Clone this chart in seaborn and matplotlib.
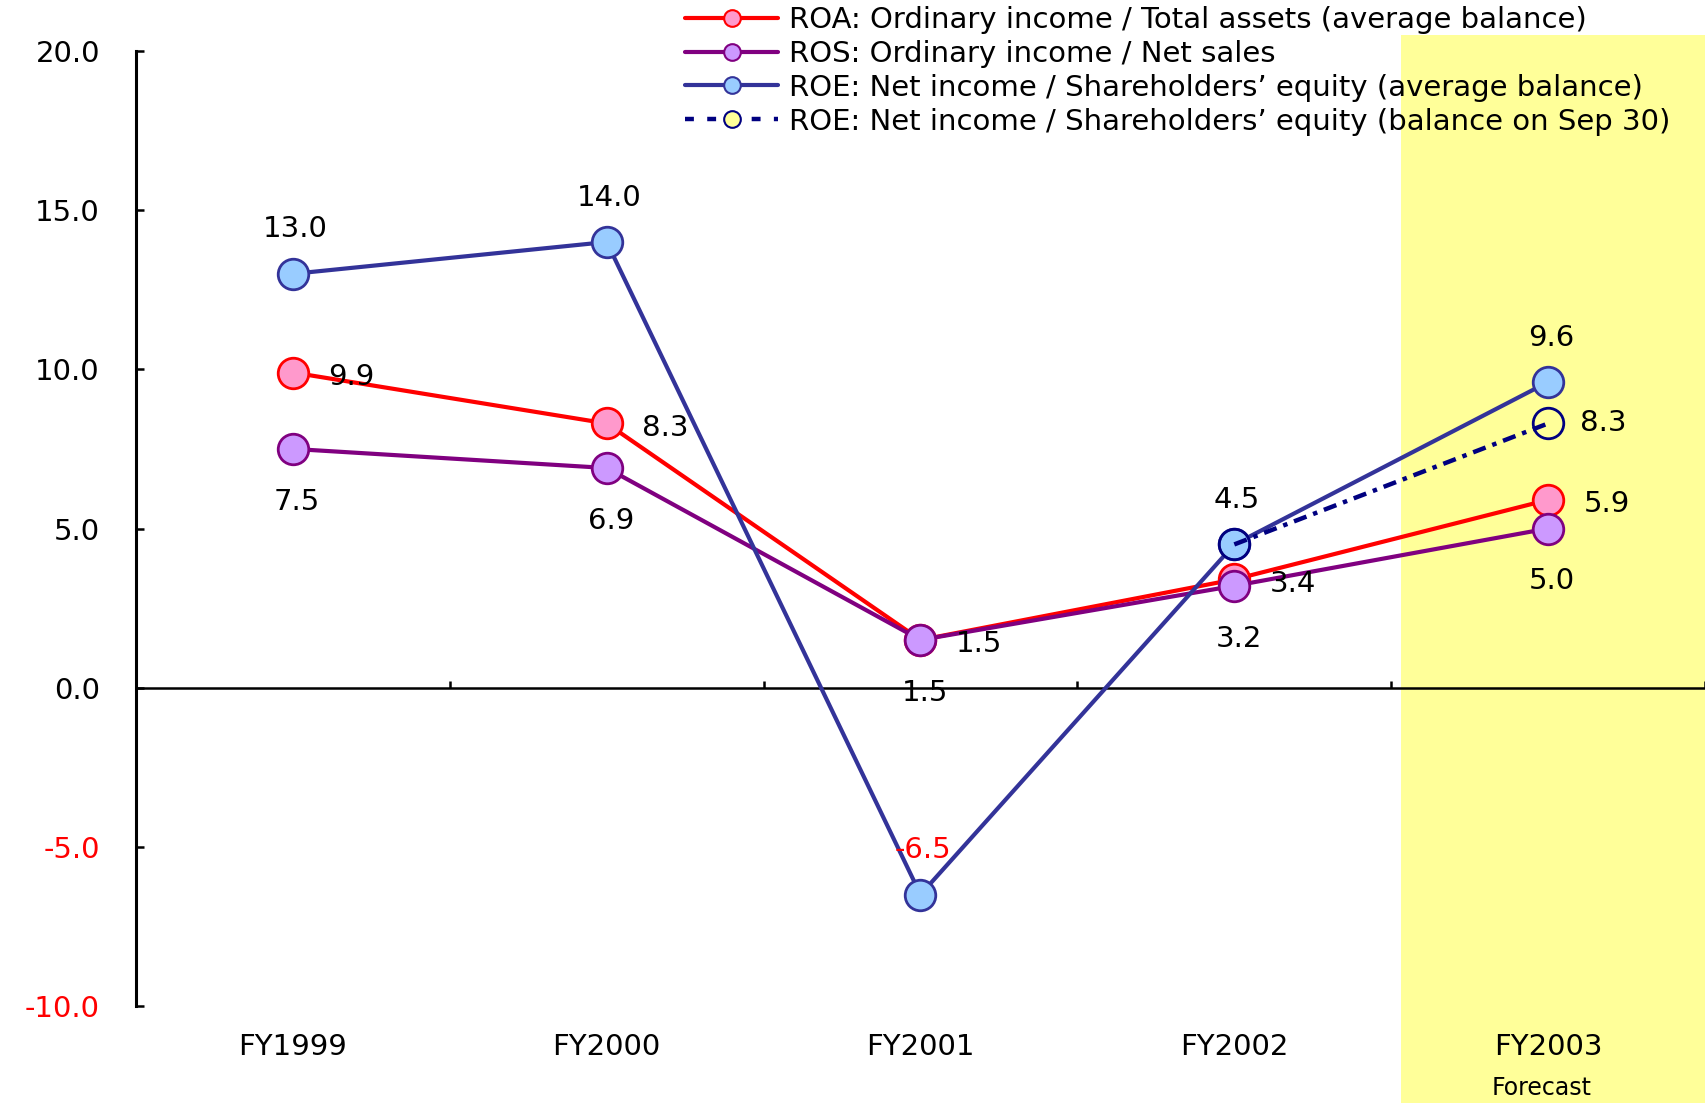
import numpy as np
import matplotlib
matplotlib.use("Agg")
import matplotlib.pyplot as plt
import matplotlib.transforms as mtransforms
from matplotlib.lines import Line2D
from matplotlib.patches import Rectangle
import seaborn as sns

# ---- data ----
categories = ["FY1999", "FY2000", "FY2001", "FY2002", "FY2003"]
roa = [9.9, 8.3, 1.5, 3.4, 5.9]
ros = [7.5, 6.9, 1.5, 3.2, 5.0]
roe_avg = [13.0, 14.0, -6.5, 4.5, 9.6]
roe_sep30 = [np.nan, np.nan, np.nan, 4.5, 8.3]
y_ticks = [-10, -5, 0, 5, 10, 15, 20]
forecast_note = "Forecast"
legend_labels = [
    "ROA: Ordinary income / Total assets (average balance)",
    "ROS: Ordinary income / Net sales",
    "ROE: Net income / Shareholders\u2019 equity (average balance)",
    "ROE: Net income / Shareholders\u2019 equity (balance on Sep 30)",
]

sns.set_theme(style="white")
plt.rcParams["font.family"] = ["DejaVu Sans"]
plt.rcParams["text.color"] = "black"
plt.rcParams["xtick.color"] = "black"
plt.rcParams["ytick.color"] = "black"

FS = 21
W, H = 1706, 1103
fig = plt.figure(figsize=(W / 100, H / 100), dpi=100)
ax = fig.add_axes([136 / W, 1 - 1006 / H, (1705 - 136) / W, (1006 - 51) / H])

x = np.arange(len(categories))

# forecast band behind the last category, running past the plot area
band_tf = mtransforms.blended_transform_factory(ax.transData, fig.transFigure)
ax.add_patch(Rectangle((3.53, 0), 1.0, 1 - 35 / H, transform=band_tf,
                       facecolor="#FFFF99", edgecolor="none", clip_on=False, zorder=0))

series = [
    (roa, "#FF0000", "#FF99CC", "#FF0000"),
    (ros, "#800080", "#CC99FF", "#800080"),
    (roe_avg, "#333399", "#99CCFF", "#333399"),
]
for i, (vals, lc, fc, ec) in enumerate(series):
    sns.lineplot(x=x, y=vals, ax=ax, color=lc, linewidth=3, marker="o",
                 markersize=22, markerfacecolor=fc, markeredgecolor=ec,
                 markeredgewidth=2, zorder=3 + i)
sns.lineplot(x=x, y=roe_sep30, ax=ax, color="#000080", linewidth=3.2,
             linestyle=(0, (3, 1.6, 1, 1.6)), marker="o", markersize=22,
             markerfacecolor="none", markeredgecolor="#000080",
             markeredgewidth=2, zorder=7)

# value labels
def label(vals, dx, dy, only=None):
    for xi, v in zip(x, vals):
        if np.isnan(v) or (only is not None and xi not in only):
            continue
        ax.annotate(f"{v:.1f}", (xi, v), xytext=(dx, dy), textcoords="offset points",
                    ha="center", va="center", fontsize=FS,
                    color="#FF0000" if v < 0 else "#000000", zorder=10)

label(roe_avg, 2, 32)
label(roa, 42, -3)
label(ros, 3, -38)
label(roe_sep30, 40, 0, only=[4])

# axes styling
ax.set_xlim(-0.5, 4.5)
ax.set_ylim(-10, 20)
for s in ("top", "right"):
    ax.spines[s].set_visible(False)
ax.spines["bottom"].set_position(("data", 0))
ax.spines["bottom"].set_linewidth(1.8)
ax.spines["bottom"].set_color("black")
ax.spines["left"].set_linewidth(2.2)
ax.spines["left"].set_color("black")

ax.set_xticks(np.arange(len(categories) + 1) - 0.5)
ax.set_xticklabels([])
ax.tick_params(axis="x", bottom=True, direction="in", length=5, width=1.8, color="black")
ax.set_yticks(y_ticks)
ax.set_yticklabels([f"{t:.1f}" for t in y_ticks], fontsize=FS)
for t, lab in zip(y_ticks, ax.get_yticklabels()):
    lab.set_color("#FF0000" if t < 0 else "#000000")
ax.tick_params(axis="y", left=True, direction="in", length=6, width=1.8, color="black", pad=26)
ax.set_xlabel("")
ax.set_ylabel("")
ax.grid(False)

cat_tf = mtransforms.blended_transform_factory(ax.transData, ax.transAxes)
for xi, c in zip(x, categories):
    ax.text(xi, -41 / 955, c, transform=cat_tf, ha="center", va="center",
            fontsize=FS, color="black", clip_on=False)
ax.text(x[-1] - 0.02, -82 / 955, forecast_note, transform=cat_tf, ha="center",
        va="center", fontsize=17, color="black", clip_on=False)

handles = [
    Line2D([], [], color="#FF0000", lw=3, marker="o", markersize=12,
           markerfacecolor="#FF99CC", markeredgecolor="#FF0000", markeredgewidth=1.5),
    Line2D([], [], color="#800080", lw=3, marker="o", markersize=12,
           markerfacecolor="#CC99FF", markeredgecolor="#800080", markeredgewidth=1.5),
    Line2D([], [], color="#333399", lw=3, marker="o", markersize=12,
           markerfacecolor="#99CCFF", markeredgecolor="#333399", markeredgewidth=1.5),
    Line2D([], [], color="#000080", lw=3.2, linestyle=(0, (2, 3)), marker="o", markersize=12,
           markerfacecolor="#FFFF99", markeredgecolor="#000080", markeredgewidth=1.5),
]
leg = fig.legend(handles, legend_labels, loc="upper left",
                 bbox_to_anchor=(685 / W, 1 - 6 / H), frameon=False, fontsize=FS,
                 handlelength=3.2, handletextpad=0.35, labelspacing=0.2,
                 borderpad=0, borderaxespad=0)
for t in leg.get_texts():
    t.set_color("black")

fig.savefig("out.png", dpi=100)
